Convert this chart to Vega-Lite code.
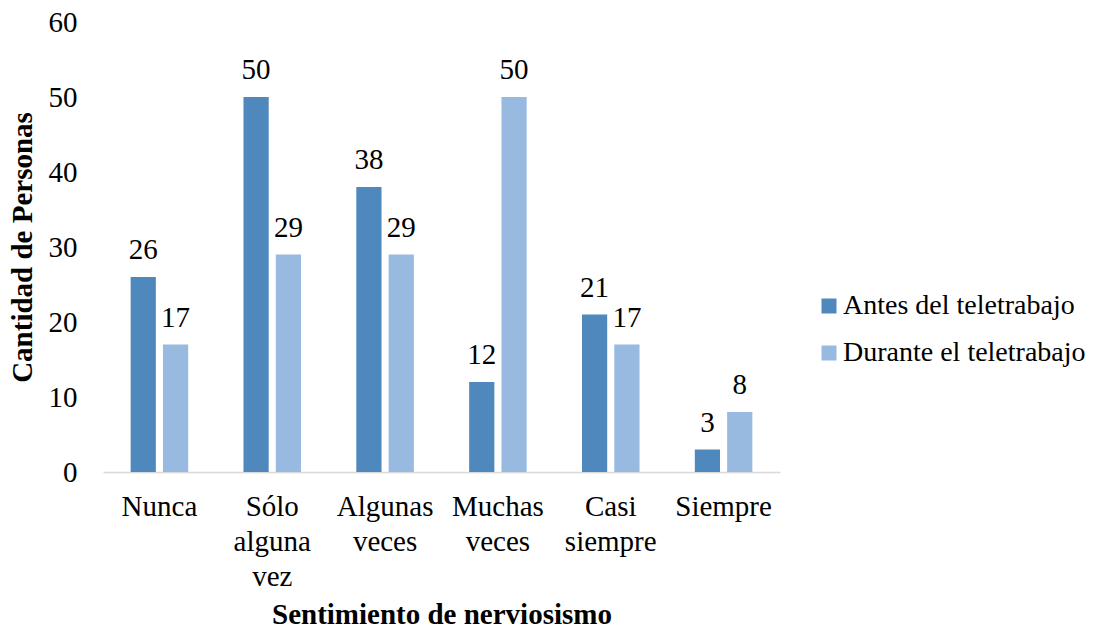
{
  "$schema": "https://vega.github.io/schema/vega-lite/v6.json",
  "width": 677,
  "height": 450,
  "autosize": "none",
  "padding": {"left": 103, "top": 22, "right": 320, "bottom": 156},
  "background": "white",
  "config": {
    "font": "Liberation Serif",
    "axis": {"labelFont": "Liberation Serif", "titleFont": "Liberation Serif"},
    "legend": {"labelFont": "Liberation Serif"},
    "text": {"font": "Liberation Serif"},
    "view": {"stroke": null}
  },
  "data": {
    "values": [
      {"cat": "Nunca", "serie": "Antes del teletrabajo", "valor": 26},
      {"cat": "Nunca", "serie": "Durante el teletrabajo", "valor": 17},
      {"cat": "Sólo alguna vez", "serie": "Antes del teletrabajo", "valor": 50},
      {"cat": "Sólo alguna vez", "serie": "Durante el teletrabajo", "valor": 29},
      {"cat": "Algunas veces", "serie": "Antes del teletrabajo", "valor": 38},
      {"cat": "Algunas veces", "serie": "Durante el teletrabajo", "valor": 29},
      {"cat": "Muchas veces", "serie": "Antes del teletrabajo", "valor": 12},
      {"cat": "Muchas veces", "serie": "Durante el teletrabajo", "valor": 50},
      {"cat": "Casi siempre", "serie": "Antes del teletrabajo", "valor": 21},
      {"cat": "Casi siempre", "serie": "Durante el teletrabajo", "valor": 17},
      {"cat": "Siempre", "serie": "Antes del teletrabajo", "valor": 3},
      {"cat": "Siempre", "serie": "Durante el teletrabajo", "valor": 8}
    ]
  },
  "encoding": {
    "x": {
      "field": "cat",
      "type": "nominal",
      "sort": null,
      "scale": {"paddingInner": 0.49, "paddingOuter": 0.245},
      "axis": {
        "title": "Sentimiento de nerviosismo",
        "titleFontSize": 29,
        "titleFontWeight": "bold",
        "titleColor": "black",
        "titlePadding": 9,
        "labelAngle": 0,
        "labelFontSize": 29,
        "labelColor": "black",
        "labelPadding": 20,
        "labelLineHeight": 35,
        "labelExpr": "split(datum.label, ' ')",
        "ticks": false,
        "domainColor": "#d9d9d9",
        "domainWidth": 1.5
      }
    },
    "xOffset": {"field": "serie", "type": "nominal", "scale": {"paddingInner": 0.22}},
    "y": {
      "field": "valor",
      "type": "quantitative",
      "scale": {"domain": [0, 60], "nice": false},
      "axis": {
        "title": "Cantidad de Personas",
        "titleFontSize": 29,
        "titleFontWeight": "bold",
        "titleColor": "black",
        "titlePadding": 11,
        "values": [0, 10, 20, 30, 40, 50, 60],
        "labelFontSize": 29,
        "labelColor": "black",
        "labelPadding": 26,
        "ticks": false,
        "domain": false,
        "grid": false
      }
    }
  },
  "layer": [
    {
      "mark": {"type": "bar"},
      "encoding": {
        "color": {
          "field": "serie",
          "type": "nominal",
          "scale": {"domain": ["Antes del teletrabajo", "Durante el teletrabajo"], "range": ["#4f88bd", "#98b9e0"]},
          "legend": {
            "title": null,
            "orient": "none",
            "legendX": 712,
            "legendY": 270,
            "symbolType": "square",
            "symbolSize": 225,
            "symbolStrokeWidth": 0,
            "labelFontSize": 28,
            "labelColor": "black",
            "labelOffset": 0,
            "rowPadding": 19,
            "labelLimit": 400
          }
        }
      }
    },
    {
      "mark": {"type": "text", "baseline": "bottom", "dy": -12, "fontSize": 29, "color": "black"},
      "encoding": {"text": {"field": "valor", "type": "quantitative"}}
    }
  ]
}
